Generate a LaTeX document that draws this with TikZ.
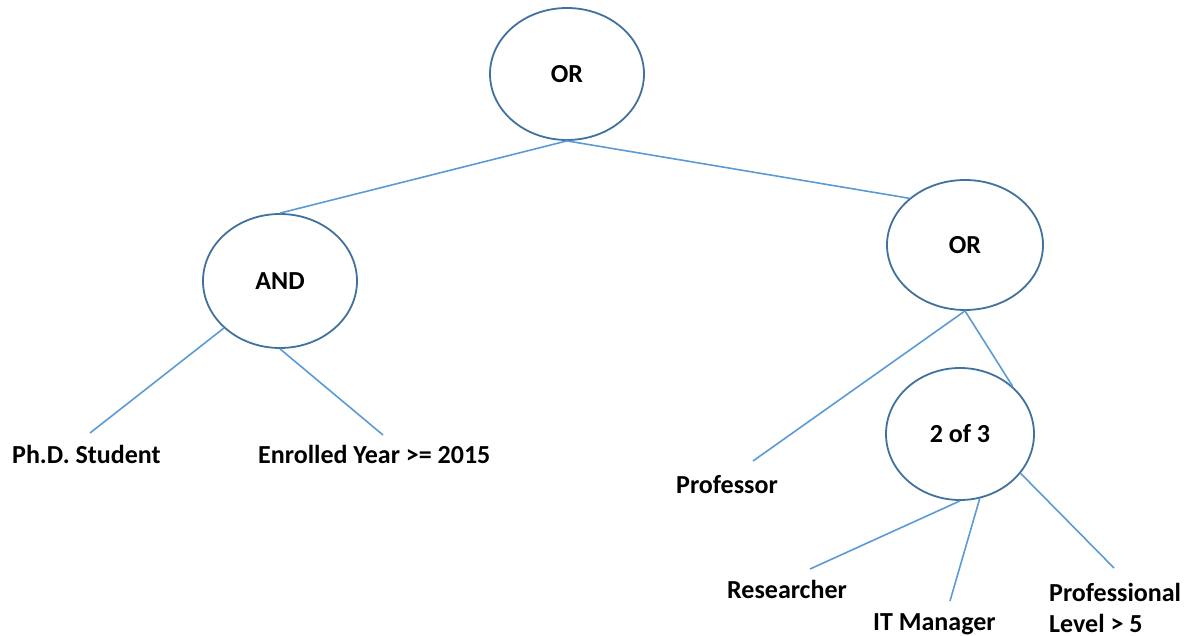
\documentclass[tikz,border=0pt]{standalone}
\usepackage{fontspec}
\setmainfont{Carlito}
\usetikzlibrary{shapes.geometric}
\definecolor{ringblue}{HTML}{41719C}
\definecolor{linkblue}{HTML}{5B9BD5}
\begin{document}
\begin{tikzpicture}[x=1pt,y=-1pt,
  gate/.style={ellipse,draw=ringblue,line width=1.8pt,inner sep=0pt,
    font=\fontsize{26}{31.5}\selectfont\bfseries},
  leaf/.style={anchor=base west,inner sep=0pt,align=left,
    font=\fontsize{26}{31.5}\selectfont\bfseries},
  link/.style={draw=linkblue,line width=1.6pt}]
\useasboundingbox (0,0) rectangle (1203,636);

% gates
\node[gate,minimum width=154pt,minimum height=132pt] (ortop) at (567,74) {OR};
\node[gate,minimum width=154pt,minimum height=134pt] (and) at (280,281) {AND};
\node[gate,minimum width=156pt,minimum height=130pt] (orr) at (965,245) {OR};
\node[gate,minimum width=148pt,minimum height=132pt] (two) at (960,434) {2 of 3};

% leaf conditions
\node[leaf] (phd) at (12,463) {Ph.D. Student};
\node[leaf] (enr) at (258,463) {Enrolled Year >= 2015};
\node[leaf] (prof) at (676,493) {Professor};
\node[leaf] (res) at (727,598) {Researcher};
\node[leaf] (itm) at (873,630) {IT Manager};
\node[leaf,anchor=north west] (pl) at (1049,583) {Professional\\Level > 5};

% free ends of the leaf connectors
\coordinate (phdT) at (90,433);
\coordinate (enrT) at (383,435);
\coordinate (profT) at (753,461);
\coordinate (resT) at (810,569);
\coordinate (itmT) at (950,601);
\coordinate (plT) at (1114,568);

% connectors
\draw[link] (ortop.south) -- (and.north);
\draw[link] (ortop.south) -- (orr.140);
\draw[link] (and.220) -- (phdT);
\draw[link] (and.south) -- (enrT);
\draw[link] (orr.south) -- (profT);
\draw[link] (orr.south) -- (two.42);
\draw[link] (two.south) -- (resT);
\draw[link] (two.-73) -- (itmT);
\draw[link] (two.-33) -- (plT);
\end{tikzpicture}
\end{document}
